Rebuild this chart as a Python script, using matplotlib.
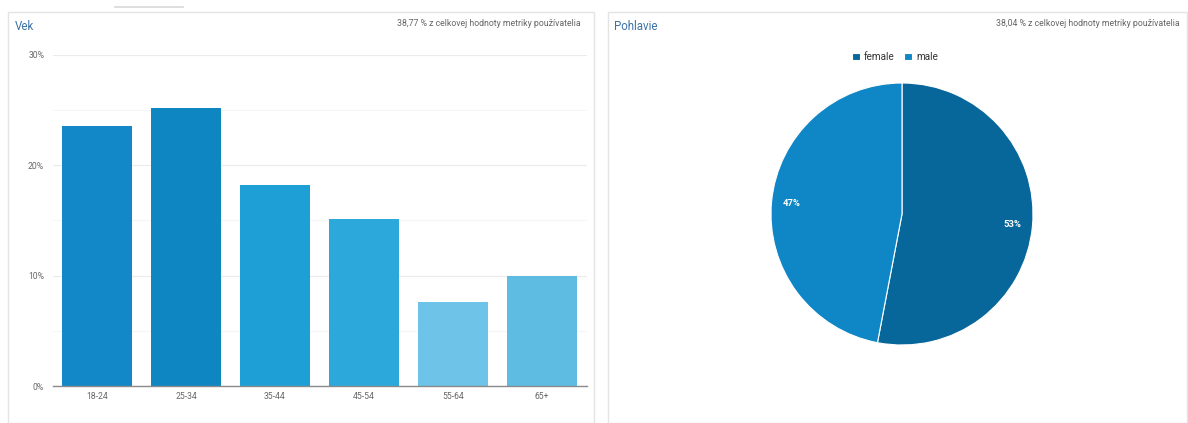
import matplotlib
matplotlib.use("Agg")
import matplotlib.pyplot as plt
from matplotlib.patches import Rectangle
from matplotlib.lines import Line2D

# ---- data ----
age_groups = ["18-24", "25-34", "35-44", "45-54", "55-64", "65+"]
age_values = [23.6, 25.2, 18.2, 15.1, 7.6, 10.0]
age_colors = ["#1388C9", "#0E86C2", "#1EA0D6", "#2CA9DA", "#6DC4E8", "#5EBCE3"]
y_ticks = [0, 10, 20, 30]
y_tick_labels = ["0%", "10%", "20%", "30%"]

gender_labels = ["female", "male"]
gender_values = [53, 47]
gender_colors = ["#08679A", "#0F86C6"]

left_title = "Vek"
left_note = "38,77 % z celkovej hodnoty metriky používatelia"
right_title = "Pohlavie"
right_note = "38,04 % z celkovej hodnoty metriky používatelia"

plt.rcParams["font.family"] = ["Roboto", "DejaVu Sans"]

W, H = 1188, 423
fig = plt.figure(figsize=(W / 100, H / 100), dpi=100)
fig.patch.set_facecolor("white")

def fx(px):
    return px / W

def fy(py):
    return 1 - py / H

# panel borders
for x0, x1 in [(8, 594), (608, 1187)]:
    fig.patches.append(Rectangle((fx(x0), fy(423)), fx(x1 - x0), fy(12) - fy(423),
                                 transform=fig.transFigure, facecolor="none",
                                 edgecolor="#E4E4E4", lw=1.0))
fig.lines.append(Line2D([fx(115), fx(183)], [fy(7), fy(7)], transform=fig.transFigure,
                        color="#D8D8D8", lw=1.2))

title_color = "#3D72A8"
note_color = "#666666"
fig.text(fx(15), fy(27), left_title, color=title_color, fontsize=8.3, va="center", ha="left")
fig.text(fx(581), fy(23), left_note, color=note_color, fontsize=6.3, va="center", ha="right")
fig.text(fx(614), fy(27), right_title, color=title_color, fontsize=8.3, va="center", ha="left")
fig.text(fx(1180), fy(23), right_note, color=note_color, fontsize=6.3, va="center", ha="right")

# ---- bar chart ----
ax = fig.add_axes([fx(52.5), fy(386), fx(586.5 - 52.5), fy(55) - fy(386)])
x = range(len(age_groups))
ax.bar(x, age_values, width=0.79, color=age_colors, zorder=2)
ax.set_xlim(-0.5, len(age_groups) - 0.5)
ax.set_ylim(0, 30)
ax.set_yticks(y_ticks)
ax.set_yticklabels(y_tick_labels)
ax.set_yticks([5, 15, 25], minor=True)
ax.set_xticks(list(x))
ax.set_xticklabels(age_groups)
ax.grid(axis="y", which="major", color="#EBEBEB", lw=0.8, zorder=0)
ax.grid(axis="y", which="minor", color="#F5F5F5", lw=0.8, zorder=0)
for s in ["top", "right", "left"]:
    ax.spines[s].set_visible(False)
ax.spines["bottom"].set_color("#8A8A8A")
ax.spines["bottom"].set_linewidth(1.0)
ax.spines["bottom"].set_zorder(3)
ax.tick_params(axis="both", which="both", length=0, labelsize=6.2, labelcolor="#666666")
ax.tick_params(axis="y", pad=6)
ax.tick_params(axis="x", pad=4)

# ---- pie chart ----
r = 131
cx, cy = 902, 214
pax = fig.add_axes([fx(cx - r), fy(cy + r), fx(2 * r), fy(cy - r) - fy(cy + r)])
wedges, texts, autotexts = pax.pie(
    gender_values, colors=gender_colors, startangle=90, counterclock=False,
    autopct="%.0f%%", pctdistance=0.85, radius=1.0,
    wedgeprops=dict(edgecolor="white", linewidth=0.8))
for t in autotexts:
    t.set_color("white")
    t.set_fontsize(6.8)
    t.set_fontweight("bold")
pax.set_xlim(-1, 1)
pax.set_ylim(-1, 1)
pax.set_aspect("auto")
pax.axis("off")

leg = fig.legend(wedges, gender_labels, loc="center", bbox_to_anchor=(fx(895), fy(57)),
                 ncol=2, frameon=False, fontsize=7.2, handlelength=0.8, handleheight=0.8,
                 handletextpad=0.4, columnspacing=1.0)
for t in leg.get_texts():
    t.set_color("#333333")

fig.savefig("out.png", dpi=100, facecolor="white")
